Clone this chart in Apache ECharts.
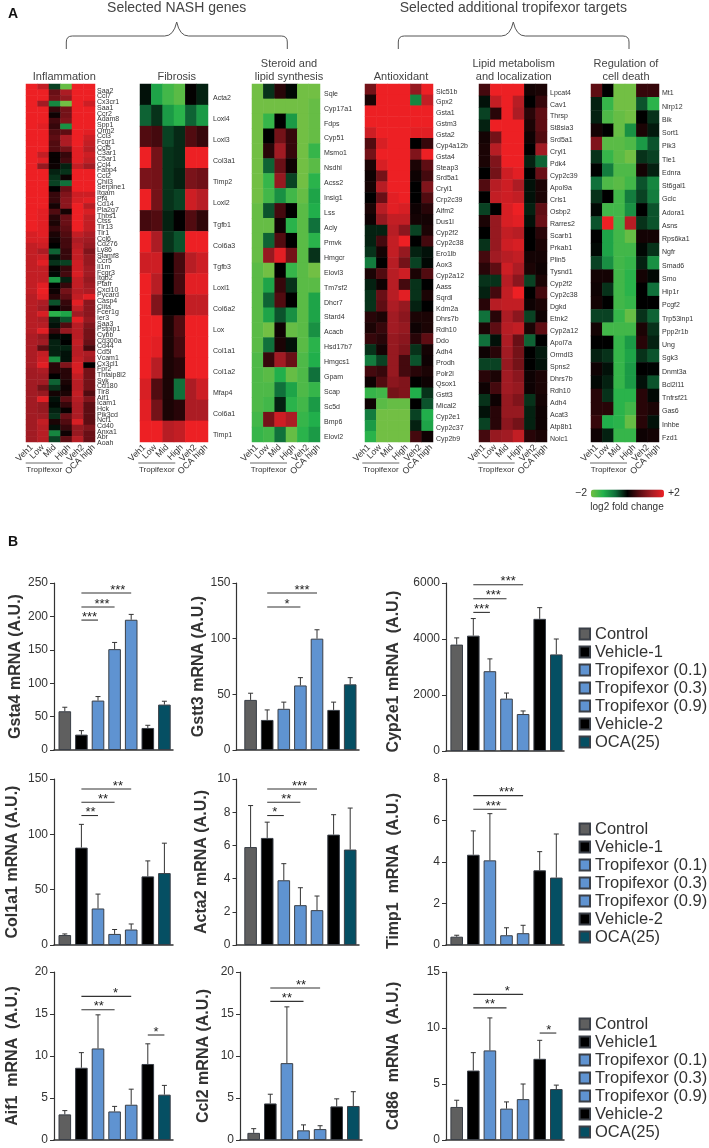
<!DOCTYPE html>
<html><head><meta charset="utf-8">
<style>html,body{margin:0;padding:0;background:#fff}#c{width:709px;height:1148px}</style>
<script src="https://cdn.jsdelivr.net/npm/echarts@6/dist/echarts.min.js"></script>
</head><body><div id="c"></div>
<script>
const heatColumns=['Veh1','Low','Mid','High','Veh2','OCA high'];
const inflammationGenes=['Saa2','Ccl7','Cx3cr1','Saa1','Ccr2','Adam8','Spp1','Orm2','Ccl3','Fcgr1','Ccl5','C3ar1','C5ar1','Ccl4','Fabp4','Ccl2','Chil3','Serpine1','Itgam','Pf4','Cd14','Pla2g7','Thbs1','Ctss','Tlr13','Tlr1','Ccl6','Cd276','Ly86','Slamf8','Ccr5','Il1m','Fcgr3','Itgb2','Ptafr','Cxcl10','Pycard','Casp4','Ciita','Fcer1g','Ier3','Saa3','Pstpip1','Cybb','Cd300a','Cd44','Cd5l','Vcam1','Cx3cl1','Fpr2','Tnfaip8l2','Syk','Cd180','Tlr8','Aif1','Icam1','Hck','Pik3cd','Ncf1','Cd40','Anxa1','Abr','Aoah'];
const inflammationValues=[[2,1.6,-.4,-1.9,2,2],[2,2,.8,1.4,2,2],[2,2,.9,1.2,2,2],[2,1.3,-.9,-2,2,1.7],[2,2,.4,.9,2,2],[2,2,.1,.9,2,2],[2,2,.5,1,2,2],[2,1.9,.4,-1,2,2],[2,2,.6,.7,2,1.9],[2,2,.7,1.4,2,1.7],[2,2,.6,1.4,2,1.6],[2,2,.6,.9,1.9,1.5],[2,1.6,.05,.4,1.9,1.7],[2,1.9,.05,.5,1.9,1.6],[2,1.2,.1,-.2,1.6,1.3],[2,2,-.2,-.3,2,2],[2,2,-.3,.1,2,2],[2,2,-.4,-.7,2,2],[2,2,0,.8,2,2],[2,2,.4,1,1.7,1.7],[2,2,.4,1.1,1.8,1.9],[2,2,.15,1.1,2,1.5],[2,1.9,.6,.15,2,1.8],[2,1.9,.3,.8,2,1.6],[2,1.9,.2,.8,2,1.6],[2,1.9,.4,.7,2,1.6],[1.8,1.9,.2,.6,1.6,1.4],[1.8,1.8,.1,.5,1.4,1.3],[1.6,1.7,0,.5,1.5,1.2],[1.6,1.4,-.6,.4,1.6,1],[1.6,1.7,-.1,.4,1.6,1.2],[1.6,1.9,-.3,-.4,1.7,1.2],[1.6,1.6,.05,.4,1.7,1.3],[1.6,1.6,-.05,.5,1.8,1.3],[1.6,1.6,-1.1,-.2,1.6,1.2],[1.6,1.9,0,.4,1.6,1.3],[1.6,2,.1,.9,1.5,1.4],[1.5,1.9,.3,.7,1.6,1.9],[1.5,1.4,-.5,.4,1.9,1.1],[1.5,1.3,0,.3,1.6,1.1],[1.5,1.8,-1.4,-1.2,1.3,1.1],[1.5,1.4,-.2,-.5,1.9,1.2],[1.5,1.5,-.1,.6,1.5,1],[1.5,1.9,.4,1.2,1.5,.9],[1.4,1.2,-.05,-.05,1.5,.9],[1.4,1.3,-.2,0,1.6,.8],[1.4,.7,-.2,-.2,1.5,.5],[1.4,1.6,-.2,-.1,1.5,1.4],[1.4,1.7,-1,-.1,1.6,1.3],[1.4,1.9,.3,1,1.8,0],[1.3,1.4,.3,.3,1.8,.9],[1.3,1.3,0,.3,1.6,.9],[1.3,1.3,-.6,.2,1.5,.9],[1.3,.9,-.3,.1,1.5,.9],[1.3,1.2,.15,.2,1.6,.6],[1.3,1.9,-.1,.7,1.5,1],[1.3,1.2,-.05,.4,1.4,.7],[1.3,1.2,-.2,.05,1.4,.7],[1.3,1.3,-.3,.8,1.4,.7],[1.3,1.6,.2,.6,1.8,.7],[1.3,1.5,-.1,.4,1.2,1],[1.3,1.5,-.9,.1,1.2,.8],[1.3,1.5,-.4,.7,1.5,.8]];
const fibrosisGenes=['Acta2','Loxl4','Loxl3','Col3a1','Timp2','Loxl2','Tgfb1','Col6a3','Tgfb3','Loxl1','Col6a2','Lox','Col1a1','Col1a2','Mfap4','Col6a1','Timp1'];
const fibrosisValues=[[-.1,-1.2,-1.6,-1.8,.03,-.2],[-.6,-.3,-1.1,-1.4,-.6,-1.1],[.6,.5,-.4,-.25,.6,.4],[2,.9,-.3,-.25,2,2],[.95,.9,-.3,-.2,.95,.85],[2,.9,-.3,-.4,1.7,1.5],[.5,.6,-.2,.02,.6,.35],[2,1.4,-.3,-.5,2,2],[1.7,1.7,0,.5,1.5,1.7],[2,1.5,0,.5,1.9,1.9],[2,1,0,0,1.6,1.6],[2,2,.2,.6,2,2],[2,1.9,.2,.5,2,2],[2,1.5,.2,.3,2,2],[1.8,.6,.2,-.7,1.4,1.7],[1.9,.9,.2,.3,1.4,1.4],[2,2,1.5,1.6,2,2]];
const steroidGenes=['Sqle','Cyp17a1','Fdps','Cyp51','Msmo1','Nsdhl','Acss2','Insig1','Lss','Acly','Pmvk','Hmgcr','Elovl3','Tm7sf2','Dhcr7','Stard4','Acacb','Hsd17b7','Hmgcs1','Gpam','Scap','Sc5d','Bmp6','Elovl2'];
const steroidValues=[[-2,-.3,.3,-.05,-2,-2],[-2,-2,-2,-2,-2,-1.9],[-2,-1.5,0,-1.1,-2,-1.9],[-2,0,.9,.4,-2,-1.9],[-2,.3,1.3,.4,-2,-1.5],[-2,-.6,.8,.1,-2,-1.8],[-2,-1.5,1.2,-.4,-2,-1.4],[-2,-1.6,-1,-1.6,-1.9,-1.2],[-1.9,-.5,.5,0,-1.8,-1.3],[-1.9,-1.9,.1,-1.4,-1.8,-.7],[-1.9,-.6,.6,0,-1.8,-1.4],[-1.9,1.2,1.9,.9,-1.8,-.3],[-1.8,-2,0,-1.5,-1.8,-2],[-1.8,-1.2,.4,-.3,-1.8,-1.8],[-1.8,-.6,.6,0,-1.8,-1.2],[-1.8,-1.2,-.5,-1,-1.8,-1.2],[-1.8,-2,.1,-1.9,-1.8,-1],[-1.8,-.7,.2,-.1,-1.8,-1.4],[-1.7,.4,1.3,.8,-1.7,-1.3],[-1.7,-1.8,-1.3,-1.9,-1.7,-.7],[-1.7,-1.7,-.7,-1.2,-1.7,-1.5],[-1.7,-1.6,-.2,-1.4,-1.6,-1.1],[-1.6,.9,1.7,1.4,-1.5,-1.3],[-1.5,-1.6,-.7,-1.9,-1.4,-1.1]];
const antioxidantGenes=['Slc51b','Gpx2','Gsta1','Gstm3','Gsta2','Cyp4a12b','Gsta4','Steap3','Srd5a1','Cryl1','Crp2c39','Aifm2','Dus1l','Cyp2f2','Cyp2c38','Ero1lb','Aox3','Cyp2a12','Aass','Sqrdl','Kdm2a','Dhrs7b','Rdh10','Ddo','Adh4','Prodh','Polr2l','Qsox1','Gstt3','Mical2','Cyp2e1','Cyp2c37','Cyp2b9'];
const antioxidantValues=[[.9,2,2,2,1.2,2],[.2,2,2,2,-.9,1.6],[2,2,2,2,2,2],[2,2,2,2,2,2],[1.7,2,2,2,1.9,1.9],[.6,1.8,2,2,0,.4],[.9,2,2,2,1,2],[.2,1.8,2,2,.2,.7],[.1,.9,2,2,.1,.5],[.15,1.5,2,2,0,1],[0,.8,1.9,2,0,.6],[.2,1.5,1.9,1.8,.1,.3],[.1,1.2,1.6,1.6,.15,.15],[-.2,-.2,1.5,1.1,-.4,.2],[-.2,.5,1.6,2,0,.5],[-.3,.15,1.6,1.2,-.2,-.1],[-.8,0,1.5,.9,-.4,-.05],[.2,.6,1.5,1.7,.2,.6],[-.2,.1,1.5,.5,-.3,0],[-.3,.8,1.5,1.9,-.3,.2],[-.3,.7,1.4,1.2,-.2,0],[.3,.2,1.3,1.1,.2,.2],[.2,.4,1.3,1.2,.1,.2],[.4,.3,1.2,1.1,.3,.7],[-.3,.15,1.2,1,-.3,.15],[-.8,-.4,1.2,.5,-.5,.1],[.5,.4,1.2,.5,.3,.2],[.1,.6,1.1,1,0,.1],[-1.5,-1.6,.9,1,-1.3,-.3],[.1,-1.8,-1.9,-1.9,0,-.5],[-.8,-2,-2,-2,-.4,-1.3],[-1.1,-2,-2,-2,-.2,-1.2],[-1.4,-2,-2,-2,.5,.1]];
const lipidGenes=['Lpcat4','Cav1','Thrsp','St8sia3','Srd5a1','Cryl1','Pdk4','Cyp2c39','Apol9a','Crls1','Osbp2','Rarres2','Scarb1','Prkab1','Plin5','Tysnd1','Cyp2f2','Cyp2c38','Dgkd','Etnk2','Cyp2a12','Apol7a','Ormdl3','Spns2','Dhrs7b','Rdh10','Adh4','Acat3','Atp8b1','Nolc1'];
const lipidValues=[[.5,2,2,2,.15,.2],[-.1,1.6,2,1.5,0,.4],[-.4,.3,2,1.4,.3,.7],[-.2,2,2,2,.2,.7],[.15,.9,2,2,.1,.6],[.2,1.5,2,2,0,1.3],[.2,1,2,2,-.2,-.6],[0,.9,1.7,1.9,0,.8],[.6,1.5,1.7,1.4,-.1,.2],[0,1.6,1.7,1.6,-.1,.2],[-.4,0,1.8,2,-.2,.7],[.2,1.2,1.8,1.9,-.1,.8],[0,1.2,1.6,1.5,0,.3],[-.3,1.2,1.7,1.8,0,.2],[.5,1.3,1.5,1.6,.15,.15],[.3,.7,1.7,1.4,.2,.1],[-.3,-.3,1.5,1.1,-.4,.2],[-.2,.5,1.6,2,0,.5],[.3,1.5,1.6,1.6,.1,.2],[-.7,.3,1.4,1.1,-.4,.1],[.2,.7,1.5,1.6,.2,.7],[-.7,-.1,1.4,.8,-.6,0],[.1,.3,1.3,.9,0,-.15],[-.4,-.4,1.2,.9,0,-.1],[.3,.2,1.3,1.1,.1,.2],[.1,.5,1.3,1.2,.1,.2],[-.3,.1,1.2,1,-.3,.15],[-.1,.3,1.2,1.2,-.2,.1],[-.4,.3,1.1,.9,-.2,.1],[.5,1.2,1.3,1.6,.3,.2]];
const deathGenes=['Mt1','Nlrp12','Bik','Sort1','Pik3','Tle1','Ednra','St6gal1','Gclc','Adora1','Asns','Rps6ka1','Ngfr','Smad6','Smo','Hip1r','Pcgf2','Trp53inp1','Ppp2r1b','Ung','Sgk3','Dnmt3a','Bcl2l11','Tnfrsf21','Gas6','Inhbe','Fzd1'];
const deathValues=[[.7,0,-2,-2,.4,.4],[-.2,-1.5,-2,-2,-.5,-1.4],[-.2,-1.7,-1.9,-2,0,-.3],[.15,0,-1.9,-1,.2,-.15],[1,-1.8,-1.8,-1.7,-1.1,-.5],[-.3,-1.5,-1.8,-2,-.3,-.4],[0,-.8,-1.7,-1.7,.15,-.2],[-.7,-1.7,-1.8,-1.6,-.5,-.9],[-.3,0,-1.6,-.8,-.4,-.8],[-.05,-1.6,-1.6,-1,0,-.5],[-.5,2,-1.6,1.5,-.3,-.5],[0,-1.2,-1.6,-1.9,.15,.15],[-.05,-1.2,-1.6,-1.6,-.05,-.3],[-.4,-1,-1.6,-1.5,-.2,-1],[.15,.15,-1.6,-1.4,.15,-.05],[.1,-.3,-1.6,-1.4,0,-.7],[.15,0,-1.6,-1.5,0,0],[-.4,-.4,-1.5,-1.9,-.3,-.6],[.15,-1.6,-1.6,-1.6,.2,-.3],[0,0,-1.5,-1.1,.3,-.2],[-.2,-.3,-1.5,-1.2,-.3,-.5],[.1,-.1,-1.5,-1.1,0,-.02],[-.05,-.2,-1.5,-1.1,-.1,-.5],[.3,-.3,-1.4,-1.4,.3,-.05],[.3,.3,-1.4,-1.6,.3,.2],[.4,-1.3,-1.4,-1.9,.3,-.1],[.1,-.2,-1.5,-1.5,.1,.15]];

const groupNames=['Control','Vehicle-1','Tropifexor (0.1)','Tropifexor (0.3)','Tropifexor (0.9)','Vehicle-2','OCA(25)'];
const groupNamesAlt=['Control','Vehicle1','Tropifexor (0.1)','Tropifexor (0.3)','Tropifexor (0.9)','Vehicle-2','OCA(25)'];
const gsta4Means=[58,23,74,151,195,33,68], gsta4Tops=[64,29,80,161,203,37,73];
const gstt3Means=[45,27,37,58,100,36,59], gstt3Tops=[51,36,43,65,108,43,65];
const cyp2e1Means=[3800,4120,2850,1870,1320,4720,3450], cyp2e1Tops=[4040,4730,3290,2070,1430,5120,4000];
const col1a1Means=[9,88,33,10,14,62,65], col1a1Tops=[10,109,46,14,19,76,92];
const acta2Means=[5.9,6.45,3.9,2.4,2.1,6.65,5.75], acta2Tops=[8.4,7.4,4.9,3.45,2.95,7.85,8.25];
const timp1Means=[.4,4.35,4.08,.47,.57,3.6,3.25], timp1Tops=[.47,5.5,6.33,.83,.95,4.5,5.35];
const aif1Means=[3.05,8.6,10.9,3.4,4.2,9.05,5.4], aif1Tops=[3.5,10.4,14.9,4,6.05,11.45,6.5];
const ccl2Means=[.85,4.35,9.15,1.15,1.3,4,4.05], ccl2Tops=[1.35,5.45,15.85,1.8,1.7,4.9,5.75];
const cd86Means=[2.95,6.2,8,2.8,3.65,7.25,4.55], cd86Tops=[3.55,7.8,10.9,3.4,5,8.9,4.9];
// significance: from, to, height, star position, stars
const gsta4Sig=[[1,2,194.5,1.49,'***'],[1,3,214,2.24,'***'],[1,4,235,3.19,'***']];
const gstt3Sig=[[1,3,128.4,2.2,'*'],[1,4,141,3.1,'***']];
const cyp2e1Sig=[[1,2,4950,1.5,'***'],[1,3,5440,2.2,'***'],[1,4,5940,3.1,'***']];
const col1a1Sig=[[1,2,117,1.55,'**'],[1,3,129,2.3,'**'],[1,4,141,3.2,'**']];
const acta2Sig=[[1,2,7.8,1.45,'*'],[1,3,8.6,2.15,'**'],[1,4,9.4,2.95,'***']];
const timp1Sig=[[1,3,6.54,2.2,'***'],[1,4,7.2,3,'***']];
const aif1Sig=[[1,3,15.5,2.05,'**'],[1,4,17.1,3.05,'*'],[5,6,12.5,5.5,'*']];
const ccl2Sig=[[1,3,16.5,2,'**'],[1,4,18.1,2.85,'**']];
const cd86Sig=[[1,3,11.8,2,'**'],[1,4,13,3.05,'*'],[5,6,9.55,5.55,'*']];

const FF='"Liberation Sans",Arial,sans-serif';
const heatLabelStops=[0,11,23,37.5,51,62];
const heatPanels=[
 {g:inflammationGenes,v:inflammationValues,l:26,r:95,m:2,lh:8,lb:5.7,tl:25.7},
 {g:fibrosisGenes,v:fibrosisValues,l:140,r:208,m:5,lh:7.4,lb:4.3,tl:138.3},
 {g:steroidGenes,v:steroidValues,l:252,r:320,m:4,lh:4.6,lb:4.7,tl:250},
 {g:antioxidantGenes,v:antioxidantValues,l:365,r:433,m:3,lh:4.4,lb:4,tl:362.3},
 {g:lipidGenes,v:lipidValues,l:479,r:547,m:3,lh:5.4,lb:5.3,tl:477.7},
 {g:deathGenes,v:deathValues,l:591,r:659,m:3,lh:5.4,lb:5.7,tl:590}
];
const charts=[
 {t:'Gsta4 mRNA (A.U.)',m:gsta4Means,e:gsta4Tops,s:gsta4Sig,max:250,iv:50,l:54,r:173,x0:64.8,top:583,h:167,gap:30,pad:0,n:groupNames},
 {t:'Gstt3 mRNA (A.U.)',m:gstt3Means,e:gstt3Tops,s:gstt3Sig,max:150,iv:50,l:236.5,r:359,x0:250.6,top:583,h:167,gap:24,pad:0,n:groupNames},
 {t:'Cyp2e1 mRNA  (A.U.)',m:cyp2e1Means,e:cyp2e1Tops,s:cyp2e1Sig,max:6000,iv:2000,l:446,r:564,x0:456.7,top:583,h:168,gap:44,pad:9,n:groupNames},
 {t:'Col1a1 mRNA (A.U.)',m:col1a1Means,e:col1a1Tops,s:col1a1Sig,max:150,iv:50,l:54,r:173,x0:64.8,top:779,h:166,gap:33,pad:0,n:groupNames},
 {t:'Acta2 mRNA (A.U.)',m:acta2Means,e:acta2Tops,s:acta2Sig,max:10,iv:2,l:236.5,r:359,x0:250.6,top:779,h:166,gap:27,pad:0,n:groupNames},
 {t:'Timp1  mRNA  (A.U.)',m:timp1Means,e:timp1Tops,s:timp1Sig,max:8,iv:2,l:446,r:564,x0:456.7,top:779,h:166,gap:44,pad:18,n:groupNames},
 {t:'Aif1  mRNA  (A.U.)',m:aif1Means,e:aif1Tops,s:aif1Sig,max:20,iv:5,l:54,r:173,x0:64.8,top:972,h:168,gap:33,pad:0,n:groupNamesAlt},
 {t:'Ccl2 mRNA (A.U.)',m:ccl2Means,e:ccl2Tops,s:ccl2Sig,max:20,iv:5,l:240,r:362,x0:253.7,top:972,h:168,gap:28,pad:0,n:groupNamesAlt},
 {t:'Cd86  mRNA  (A.U.)',m:cd86Means,e:cd86Tops,s:cd86Sig,max:15,iv:5,l:446,r:564,x0:456.7,top:972,h:168,gap:44,pad:0,n:groupNamesAlt}
];
const barColors=['#5f5f5f','#000000','#5f93d1','#5f93d1','#5f93d1','#000000','#054f63'];
const barBand=16.6;

const grid=[],xAxis=[],yAxis=[],series=[],graphic=[];
heatPanels.forEach((p,i)=>{
  grid.push({left:p.l,top:84,width:p.r-p.l,height:358,containLabel:false});
  xAxis.push({gridIndex:grid.length-1,type:'category',data:heatColumns,axisLine:{show:false},axisTick:{show:false},splitLine:{show:false},axisLabel:{show:false}});
  yAxis.push({gridIndex:grid.length-1,type:'category',data:p.g,inverse:true,position:'right',axisLine:{show:false},axisTick:{show:false},splitLine:{show:false},
    axisLabel:{interval:0,fontSize:7,margin:p.m,color:'#333',fontFamily:FF,verticalAlign:'top',lineHeight:p.lh,align:'left'}});
  const d=[];p.v.forEach((row,r)=>row.forEach((val,c)=>d.push([c,r,val])));
  series.push({type:'heatmap',xAxisIndex:i,yAxisIndex:i,data:d,progressive:0,emphasis:{disabled:true}});
  graphic.push({type:'line',shape:{x1:p.tl,y1:463,x2:p.tl+37,y2:463},style:{stroke:'#444',lineWidth:.8}});
  graphic.push({type:'text',style:{text:'Tropifexor',x:p.tl+18.5,y:469.5,textAlign:'center',textVerticalAlign:'middle',font:'8px '+FF,fill:'#333'}});
});
charts.forEach((c)=>{
  const k=grid.length;
  grid.push({left:c.l,top:c.top,width:c.r-c.l,height:c.h});
  xAxis.push({gridIndex:k,type:'value',min:(c.l-c.x0)/barBand,max:(c.r-c.x0)/barBand,axisLabel:{show:false},axisTick:{show:false},splitLine:{show:false},axisLine:{show:true,onZero:false,lineStyle:{color:'#333',width:1.5}}});
  yAxis.push({gridIndex:k,type:'value',min:0,max:c.max,interval:c.iv,splitLine:{show:false},
    axisLine:{show:true,onZero:false,lineStyle:{color:'#333',width:1.2}},axisTick:{show:true,length:4,lineStyle:{color:'#333'}},
    axisLabel:{fontSize:12,margin:6,color:'#333',fontFamily:FF,formatter:v=>String(v)},
    name:c.t,nameLocation:'middle',nameRotate:90,nameGap:c.gap,nameTextStyle:{fontSize:16,fontWeight:'bold',color:'#333',fontFamily:FF,padding:[0,c.pad,0,0]}});
  c.n.forEach((name,i)=>{
    series.push({type:'bar',name,xAxisIndex:k,yAxisIndex:k,barWidth:12.6,barGap:'-100%',
      data:[[i,c.m[i]]],
      itemStyle:{color:barColors[i],borderColor:'#3a3f47',borderWidth:1},emphasis:{disabled:true}});
  });
  series.push({type:'custom',xAxisIndex:k,yAxisIndex:k,z:3,silent:true,clip:false,
    encode:{x:0,y:[1,2]},
    data:c.m.map((v,i)=>[i,v,c.e[i]]),
    renderItem(params,api){
      const a=api.coord([api.value(0),api.value(1)]),b=api.coord([api.value(0),api.value(2)]);
      const st={stroke:'#333',lineWidth:1,fill:null};
      return {type:'group',children:[
        {type:'line',shape:{x1:a[0],y1:a[1],x2:b[0],y2:b[1]},style:st},
        {type:'line',shape:{x1:b[0]-2.5,y1:b[1],x2:b[0]+2.5,y2:b[1]},style:st}]};
    }});
  series.push({type:'custom',xAxisIndex:k,yAxisIndex:k,z:4,silent:true,clip:false,
    encode:{x:[0,1,3],y:2},
    data:c.s,
    renderItem(params,api){
      const row=c.s[params.dataIndex];
      const a=api.coord([row[0],row[2]]),b=api.coord([row[1],row[2]]),t=api.coord([row[3],row[2]]);
      return {type:'group',children:[
        {type:'line',shape:{x1:a[0],y1:a[1],x2:b[0],y2:b[1]},style:{stroke:'#333',lineWidth:1.1,fill:null}},
        {type:'text',style:{text:row[4],x:t[0],y:t[1]-3,textAlign:'center',textVerticalAlign:'middle',font:'13px '+FF,fill:'#222'}}]};
    }});
});
// extra x axes for each heat map: the column labels sit as a fixed block, slightly wider than the columns
heatPanels.forEach((p,i)=>{
  const w=p.r-p.l, stops=heatLabelStops.map(s=>s+p.lb);
  [0,1].forEach(parity=>{
    const vals=stops.filter((s,j)=>j%2===parity);
    xAxis.push({gridIndex:i,type:'value',position:'bottom',min:0,max:w,axisLine:{show:false},axisTick:{show:false},splitLine:{show:false},
      axisLabel:{customValues:vals,rotate:45,fontSize:8.8,margin:4,color:'#333',fontFamily:FF,showMinLabel:true,showMaxLabel:true,hideOverlap:false,
        formatter:v=>heatColumns[stops.indexOf(v)]}});
  });
});
const legendItem={left:578.6,orient:'vertical',padding:0,itemWidth:10.4,itemHeight:11,itemGap:0,selectedMode:false,icon:'rect',
  textStyle:{fontSize:16.5,lineHeight:18,color:'#333',fontFamily:FF}};
const legend=[
  Object.assign({},legendItem,{top:625,data:groupNames}),
  Object.assign({},legendItem,{top:820,data:groupNames}),
  Object.assign({},legendItem,{top:1015,data:groupNamesAlt})
];
function label(text,x,y,font,fill){graphic.push({type:'text',style:{text,x,y,textAlign:'center',textVerticalAlign:'middle',font:font+' '+FF,fill:fill||'#444'}});}
label('Selected NASH genes',176.7,8,'14px');
label('Selected additional tropifexor targets',513.3,8,'14px');
label('A',13,14,'bold 14px','#111');
label('B',13,542,'bold 14px','#111');
label('Inflammation',64.3,77,'11px');
label('Fibrosis',176.7,77,'11px');
label('Steroid and',289,63.5,'11px');
label('lipid synthesis',289,77,'11px');
label('Antioxidant',401,77,'11px');
label('Lipid metabolism',513.7,63.5,'11px');
label('and localization',513.7,77,'11px');
label('Regulation of',626,63.5,'11px');
label('cell death',626,77,'11px');
label('log2 fold change',627,507,'10px','#333');
function bracket(a,m,b){
  const st={stroke:'#555',lineWidth:1,fill:null};
  graphic.push({type:'line',shape:{x1:a,y1:49,x2:a,y2:42},style:st});
  graphic.push({type:'bezierCurve',shape:{x1:a,y1:42,cpx1:a,cpy1:36,x2:a+6,y2:36},style:st});
  graphic.push({type:'line',shape:{x1:a+6,y1:36,x2:m-12,y2:36},style:st});
  graphic.push({type:'bezierCurve',shape:{x1:m-12,y1:36,cpx1:m-3,cpy1:36,x2:m,y2:22},style:st});
  graphic.push({type:'bezierCurve',shape:{x1:m,y1:22,cpx1:m+3,cpy1:36,x2:m+12,y2:36},style:st});
  graphic.push({type:'line',shape:{x1:m+12,y1:36,x2:b-6,y2:36},style:st});
  graphic.push({type:'bezierCurve',shape:{x1:b-6,y1:36,cpx1:b,cpy1:36,x2:b,y2:42},style:st});
  graphic.push({type:'line',shape:{x1:b,y1:42,x2:b,y2:49},style:st});
}
bracket(66.3,176.7,287.3);
bracket(398.3,513.3,629);

echarts.init(document.getElementById('c'),null,{renderer:'canvas'}).setOption({
  animation:false,backgroundColor:'#fff',tooltip:{show:false},
  grid,xAxis,yAxis,series,legend,graphic,
  visualMap:{type:'continuous',seriesIndex:[0,1,2,3,4,5],min:-2,max:2,orient:'horizontal',left:560,top:473,itemWidth:8,itemHeight:73,calculable:false,realtime:false,
    text:['+2','\u22122'],textGap:4,textStyle:{fontSize:10.5,color:'#333',fontFamily:FF},
    inRange:{color:['#72bf44','#22b24c','#0f6e3a','#000000','#5a0c12','#a51c24','#ed2024']}}
});
</script></body></html>
